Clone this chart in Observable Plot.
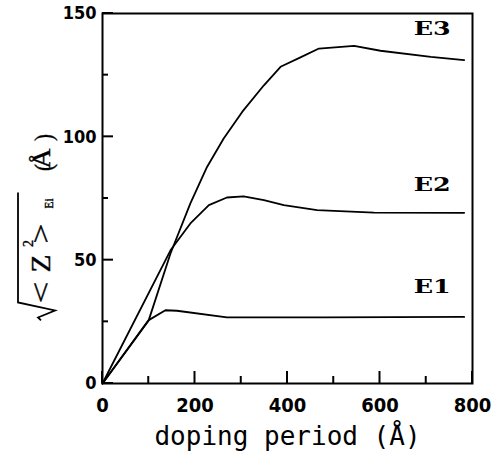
<!DOCTYPE html>
<html><head><meta charset="utf-8">
<script src="https://cdn.jsdelivr.net/npm/d3@7"></script>
<script src="https://cdn.jsdelivr.net/npm/@observablehq/plot@0.6"></script>
<style>html,body{margin:0;padding:0;background:#fff}</style>
</head><body><div id="chart"></div>
<script>
// Series (doping period in Å, sqrt(<Z^2>) in Å)
const seriesNames = ["E1", "E2", "E3"];
const e1X = [0, 100, 136, 161, 269, 479, 782];
const e1Y = [0, 25.7, 29.7, 29.5, 26.8, 26.8, 27.0];
const e2X = [0, 147, 190, 230, 269, 305, 349, 392, 464, 587, 782];
const e2Y = [0, 54, 64.9, 72.3, 75.4, 75.9, 74.3, 72.3, 70.3, 69.3, 69.2];
const e3X = [0, 100, 147, 190, 226, 262, 302, 349, 385, 428, 468, 544, 601, 710, 782];
const e3Y = [0, 25.7, 52.7, 73, 87.8, 99.3, 110.1, 120.9, 128.4, 132.2, 135.8, 136.9, 134.9, 132.4, 131.1];
const xMajorTicks = [0, 200, 400, 600, 800];
const xMinorTicks = [100, 300, 500, 700];
const yMajorTicks = [0, 50, 100, 150];
const yMinorTicks = [25, 75, 125];
const xLabel = "doping period (Å)";

const seriesX = [e1X, e2X, e3X];
const seriesY = [e1Y, e2Y, e3Y];
const rows = seriesNames.flatMap((s, i) => seriesX[i].map((x, j) => ({series: s, x, y: seriesY[i][j]})));

const tickFont = "'Liberation Sans Narrow','DejaVu Sans Condensed','Liberation Sans',sans-serif";
const serif = "'Liberation Serif','Times New Roman',serif";

// inward tick marks, placed through Plot's x and y scales
function inwardTicks(index, scales, values, dims) {
  const bottom = dims.height - dims.marginBottom;
  const left = dims.marginLeft;
  const g = d3.create("svg:g").attr("stroke", "#000").attr("stroke-width", 2).attr("fill", "none");
  const add = (ticks, len, horiz) => {
    for (const v of ticks) {
      if (horiz) {
        const x = scales.x(v);
        g.append("path").attr("d", `M${x},${bottom}V${bottom - len}`);
      } else {
        const y = scales.y(v);
        g.append("path").attr("d", `M${left},${y}H${left + len}`);
      }
    }
  };
  add(xMinorTicks, 7, true);
  add(xMajorTicks, 12, true);
  add(yMinorTicks, 6, false);
  add(yMajorTicks, 11, false);
  return g.node();
}

// custom y-axis label: sqrt(<Z^2>_Ei) (Å), rotated
function yLabelMark(index, scales, values, dims) {
  const cy = dims.marginTop + (dims.height - dims.marginTop - dims.marginBottom) * 0.831;
  const g = d3.create("svg:g")
    .attr("transform", `translate(${dims.marginLeft - 52},${cy}) rotate(-90)`)
    .attr("fill", "#000").attr("font-family", serif);
  g.append("path")
    .attr("d", "M0,-9 L3,-12 L10,5 L18,-32 L128,-32")
    .attr("fill", "none").attr("stroke", "#000").attr("stroke-width", 1.8).attr("stroke-linejoin", "miter");
  const parts = [
    {t: "<", x: 28, w: 22, s: 27, y: 0},
    {t: "Z", x: 57, w: 18, s: 27, y: 0},
    {t: "2", x: 77, w: 7, s: 15, y: -17},
    {t: ">", x: 87, w: 20, s: 27, y: 0},
    {t: "Ei", x: 117, w: 10, s: 12, y: 3},
    {t: "(", x: 153, w: 7, s: 25, y: 2},
    {t: "Å", x: 162, w: 20, s: 25, y: 0},
    {t: ")", x: 183, w: 7, s: 25, y: 2}
  ];
  for (const p of parts) {
    g.append("text").attr("x", p.x).attr("y", p.y).attr("font-size", p.s)
      .attr("stroke", "#000").attr("stroke-width", 0.4)
      .attr("textLength", p.w).attr("lengthAdjust", "spacingAndGlyphs").text(p.t);
  }
  return g.node();
}

const labelFont = {fontSize: 19, fontWeight: "bold", fontFamily: "'DejaVu Serif',serif", fill: "#000"};

const chart = Plot.plot({
  width: 494,
  height: 460,
  marginLeft: 102,
  marginRight: 22,
  marginTop: 13,
  marginBottom: 77,
  x: {domain: [0, 800], label: null},
  y: {domain: [0, 150], label: null},
  style: {background: "#fff", color: "#000", overflow: "visible"},
  marks: [
    Plot.frame({stroke: "#000", strokeWidth: 2}),
    Plot.axisX(xMajorTicks, {tickSize: 0, tickPadding: 14, fontSize: 20, fontWeight: "bold", fontFamily: tickFont, label: null}),
    Plot.axisY(yMajorTicks, {tickSize: 0, tickPadding: 6, fontSize: 18, fontWeight: "bold", fontFamily: tickFont, label: null}),
    inwardTicks,
    Plot.line(rows, {x: "x", y: "y", z: "series", stroke: "#000", strokeWidth: 1.8}),
    Plot.text(rows.filter(d => d.series === "E3"), Plot.selectLast({x: "x", y: "y", text: "series", dx: -32, dy: -31, ...labelFont})),
    Plot.text(rows.filter(d => d.series === "E2"), Plot.selectLast({x: "x", y: "y", text: "series", dx: -32, dy: -28, ...labelFont})),
    Plot.text(rows.filter(d => d.series === "E1"), Plot.selectLast({x: "x", y: "y", text: "series", dx: -32, dy: -30, ...labelFont})),
    Plot.text([xLabel], {frameAnchor: "bottom", text: d => d, dy: 61, fontSize: 26, fontFamily: "'DejaVu Sans Mono',monospace", fill: "#000"}),
    yLabelMark
  ]
});
// widen the series labels like the original's broad bold serif
d3.select(chart).selectAll("text").filter(function() { return seriesNames.includes(this.textContent); })
  .attr("textLength", 37).attr("lengthAdjust", "spacingAndGlyphs");
document.getElementById("chart").appendChild(chart);
</script>
</body></html>
